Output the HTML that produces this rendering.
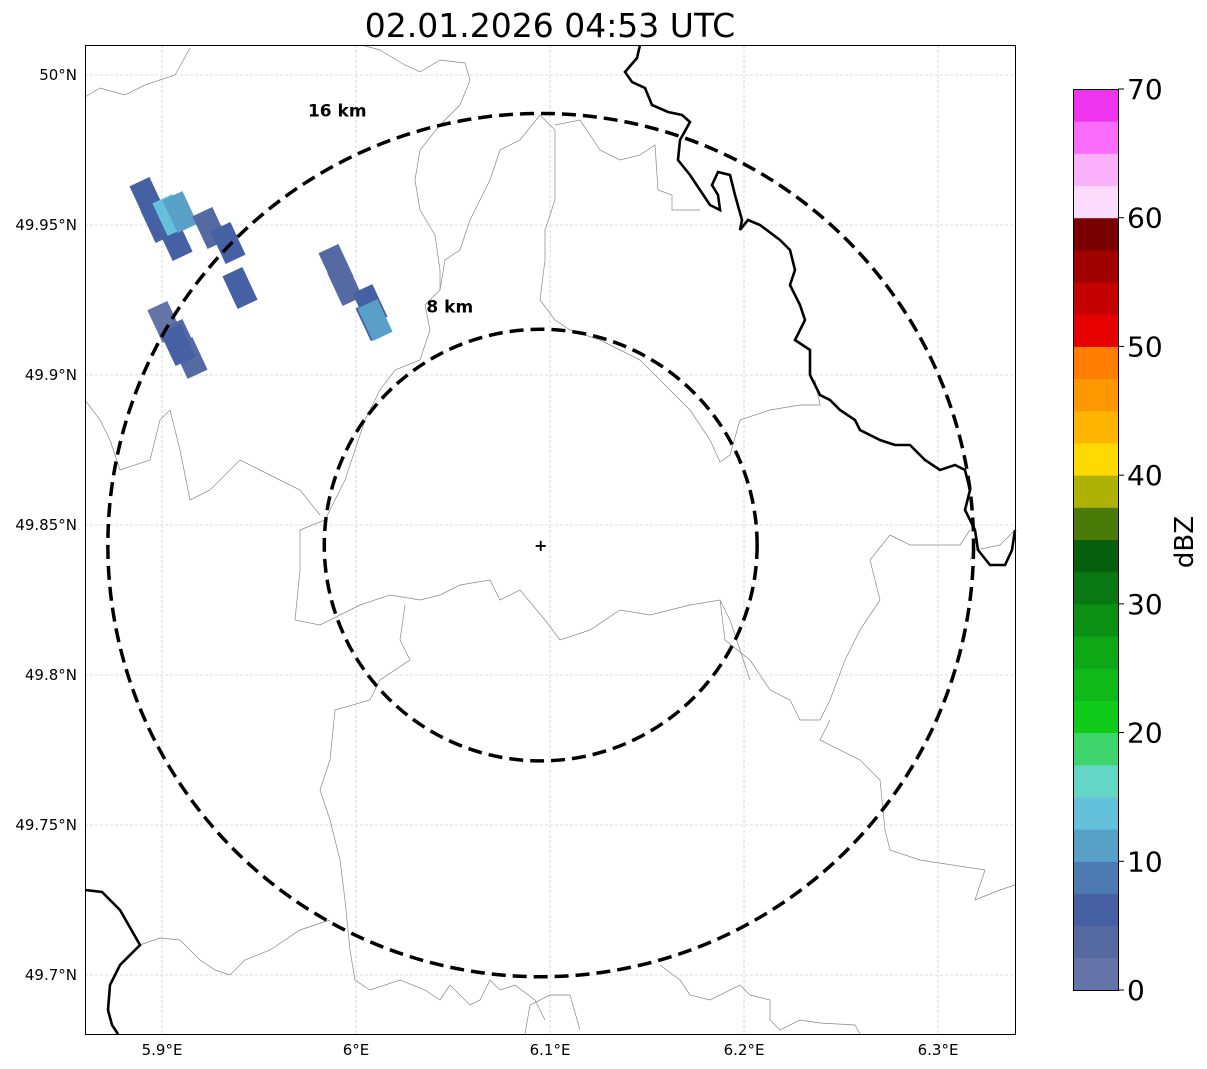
<!DOCTYPE html>
<html><head><meta charset="utf-8"><style>
html,body{margin:0;padding:0;background:#fff;}
svg{display:block;font-family:"DejaVu Sans","Liberation Sans",sans-serif;}
</style></head><body>
<svg id="chart" width="1207" height="1069" xmlns="http://www.w3.org/2000/svg">
<text x="550" y="37" font-size="33" text-anchor="middle" fill="#000">02.01.2026 04:53 UTC</text>
<g id="grid"></g>
<g id="borders" fill="none">
<polyline stroke="#888" stroke-width="0.7" points="85,97 100,88 125,95 145,85 175,75 190,48"/>
<polyline stroke="#888" stroke-width="0.7" points="362,45 380,50 405,65 420,72 440,60 465,63 470,80 460,105 440,125 420,150 415,180 420,210 435,235 440,270 440,290 425,305 430,330 420,360 395,370 380,390 365,420 355,450 345,480 325,520 300,530 300,570 295,620 320,625 360,605 390,595 420,600 440,595 460,585 490,580 500,600 520,590 545,620 560,640 590,630 620,610 650,615 690,605 720,600 730,620 740,650 750,680"/>
<polyline stroke="#888" stroke-width="0.7" points="85,400 100,420 110,440 120,470 150,460 160,420 170,410 180,450 190,500 210,490 240,460 260,470 300,490 320,515"/>
<polyline stroke="#888" stroke-width="0.7" points="540,115 520,140 500,150 490,180 480,200 470,220 460,250 445,260 440,290"/>
<polyline stroke="#888" stroke-width="0.7" points="540,115 555,130 555,200 545,230 545,260 540,300 555,320 570,330 600,340 620,350 640,360 660,380 690,410 710,440 720,462 730,455 740,420 770,410 800,405 820,405 815,380"/>
<polyline stroke="#888" stroke-width="0.7" points="555,125 580,120 600,150 620,160 640,155 655,145 658,190 672,195 672,210 700,210"/>
<polyline stroke="#888" stroke-width="0.7" points="970,530 960,545 910,545 890,535 870,560 880,600 860,630 845,660 830,700 820,720 800,720 790,700 770,690 750,660 725,640 720,600"/>
<polyline stroke="#888" stroke-width="0.7" points="830,720 820,740 860,760 880,780 885,830 890,850 920,860 985,870 975,900 1000,890 1015,885"/>
<polyline stroke="#888" stroke-width="0.7" points="405,605 400,640 410,660 380,680 370,700 335,710 330,760 320,790 330,820 340,860 345,900 350,950 355,980 370,990 400,980 425,990 440,1000 450,985 470,1005 480,1000 490,980 500,990 515,985 535,1000 545,1020"/>
<polyline stroke="#888" stroke-width="0.7" points="860,1034 855,1025 820,1023 800,1020 780,1030 770,1020 770,1000 750,995 740,985 710,1000 690,995 680,980 660,965"/>
<polyline stroke="#888" stroke-width="0.7" points="525,1034 530,1005 550,995 570,995 580,1030"/>
<polyline stroke="#888" stroke-width="0.7" points="140,945 160,938 180,940 200,960 215,970 230,975 245,960 270,950 300,930 330,920"/>
<polyline stroke="#888" stroke-width="0.7" points="1015,530 1000,545 975,550 970,560"/>
<polyline stroke="#000" stroke-width="2.6" points="640,45 637,58 625,72 632,82 645,88 652,105 668,112 682,115 690,122 680,140 678,160 690,175 700,190 710,205 720,210 718,195 712,185 718,172 730,175 735,195 742,220 740,230 748,220 760,225 780,240 790,250 795,270 790,285 800,305 805,320 795,340 810,350 810,375 820,395 830,400 840,410 855,420 860,430 880,440 895,445 910,445 925,460 940,470 955,465 965,470 970,490 965,510 975,530 978,550 990,565 1005,565 1012,550 1015,530"/>
<polyline stroke="#000" stroke-width="2.6" points="85,890 102,892 120,910 140,945 120,965 110,985 108,1010 112,1025 118,1034"/>
</g>
<g id="echoes"></g>
<g id="rings"></g>
<rect x="85.5" y="45.5" width="930" height="989" fill="none" stroke="#000" stroke-width="1"/>
<g id="axes"></g>
<g id="cbar"></g>
<text transform="translate(1193,542) rotate(-90)" font-size="26" text-anchor="middle" fill="#000">dBZ</text>
</svg>
<script>
// ---- data ----
const lonTicks = [5.9, 6.0, 6.1, 6.2, 6.3];
const lonTickLabels = ["5.9°E", "6°E", "6.1°E", "6.2°E", "6.3°E"];
const latTicks = [50.0, 49.95, 49.9, 49.85, 49.8, 49.75, 49.7];
const latTickLabels = ["50°N", "49.95°N", "49.9°N", "49.85°N", "49.8°N", "49.75°N", "49.7°N"];
const ringRadiiKm = [8, 16];
const ringLabels = ["8 km", "16 km"];
const radarLon = 6.0952;
const radarLat = 49.8433;
const echoLon = [5.8923, 5.8964, 5.8979, 5.9067, 5.9041, 5.9093, 5.9247, 5.9340, 5.9402, 5.9015, 5.9093, 5.9144, 5.9082, 5.9897, 5.9943, 6.0072, 6.0088, 6.0098];
const echoLat = [49.959, 49.9533, 49.951, 49.945, 49.9533, 49.9543, 49.949, 49.944, 49.929, 49.9177, 49.9117, 49.9057, 49.91, 49.9367, 49.93, 49.9233, 49.9183, 49.9183];
const echoDbz = [5, 5, 6, 6, 14, 12, 3, 6, 7, 2, 3, 3, 5, 3, 3, 6, 5, 12];
const cbarColors = ["#6473a8","#5569a3","#4560a3","#4d7ab3","#58a0c8","#63c1dc","#63d6c6","#3ed66c","#10cb1a","#0fb91a","#0ea715","#0b8f14","#0a7812","#065f0d","#4a7a08","#aeb106","#ffd900","#ffb500","#ff9800","#ff7e00","#e60000","#c40000","#a00000","#7a0000","#fcdcfc","#fcb0fc","#fc6cfc","#ef34ef"];
const cbarTicks = [0, 10, 20, 30, 40, 50, 60, 70];

// ---- scales ----
const NS = "http://www.w3.org/2000/svg";
const X0 = 85, X1 = 1015, Y0 = 45, Y1 = 1034;
const lonMin = 5.8603, pxPerLon = 1940;
const latMax = 50.01, pxPerLat = 3000;
function xScale(lon){ return X0 + (lon - lonMin) * pxPerLon; }
function yScale(lat){ return Y0 + (latMax - lat) * pxPerLat; }
const CB_X = 1073, CB_W = 45, CB_TOP = 89, CB_BOT = 990, CB_MAX = 70;
function cbY(v){ return CB_BOT - v / CB_MAX * (CB_BOT - CB_TOP); }
function colorFor(d){ let i = Math.floor(d / 2.5); if (i < 0) i = 0; if (i > 27) i = 27; return cbarColors[i]; }
function mk(tag, attrs, parent){ const e = document.createElementNS(NS, tag); for (const k in attrs) e.setAttribute(k, attrs[k]); parent.appendChild(e); return e; }

// grid
const grid = document.getElementById('grid');
lonTicks.forEach(function(lon){
  const l = mk('line', {x1: xScale(lon), x2: xScale(lon), y1: Y0, y2: Y1, stroke: '#bbb', 'stroke-width': 0.6, 'stroke-dasharray': '3,2'}, grid);
  
  
});
latTicks.forEach(function(lat){
  const l = mk('line', {x1: X0, x2: X1, y1: yScale(lat), y2: yScale(lat), stroke: '#bbb', 'stroke-width': 0.6, 'stroke-dasharray': '3,2'}, grid);
  
  
});

// axes labels
const axes = document.getElementById('axes');
lonTicks.forEach(function(lon, i){
  const t = mk('text', {x: xScale(lon), y: 1055, 'font-size': 15, 'text-anchor': 'middle', fill: '#000'}, axes);
  
  
  t.textContent = lonTickLabels[i];
});
latTicks.forEach(function(lat, i){
  const t = mk('text', {x: 77, y: yScale(lat) + 5, 'font-size': 15, 'text-anchor': 'end', fill: '#000'}, axes);
  
  
  t.textContent = latTickLabels[i];
});

// echoes
const echoes = document.getElementById('echoes');
echoLon.forEach(function(lon, i){
  const cx = xScale(lon), cy = yScale(echoLat[i]);
  const r = mk('rect', {x: cx - 11, y: cy - 18, width: 22, height: 36, fill: colorFor(echoDbz[i]), transform: 'rotate(-25 ' + cx + ' ' + cy + ')'}, echoes);
  
  
});

// rings
const rings = document.getElementById('rings');
const rx0 = xScale(radarLon), ry0 = yScale(radarLat);
const kmPerDegLat = 111.2;
ringRadiiKm.forEach(function(km, i){
  const ry = km / kmPerDegLat * pxPerLat;
  const rx = km / (kmPerDegLat * Math.cos(radarLat * Math.PI / 180)) * pxPerLon;
  const e = mk('ellipse', {cx: rx0, cy: ry0, rx: rx, ry: ry, fill: 'none', stroke: '#000', 'stroke-width': 3.5, 'stroke-dasharray': '14,7'}, rings);
  
  
  const lx = km === 8 ? rx0 - rx * 0.42 : rx0 - rx * 0.47;
  const ly = km === 8 ? ry0 - ry - 17 : ry0 - ry + 3;
  const t = mk('text', {x: lx, y: ly, 'font-size': 17, 'font-weight': 'bold', 'text-anchor': 'middle', fill: '#000'}, rings);
  
  
  t.textContent = ringLabels[i];
});
const m = mk('text', {x: rx0, y: ry0 + 6, 'font-size': 16, 'font-weight': 'bold', 'text-anchor': 'middle', fill: '#000'}, rings);


m.textContent = '+';

// colorbar
const cbar = document.getElementById('cbar');
cbarColors.forEach(function(c, i){
  const yTop = cbY((i + 1) * 2.5), yBot = cbY(i * 2.5);
  const r = mk('rect', {x: CB_X, y: yTop, width: CB_W, height: yBot - yTop + 0.5, fill: c}, cbar);
  
  
});
const fr = mk('rect', {x: CB_X + 0.5, y: CB_TOP + 0.5, width: CB_W, height: CB_BOT - CB_TOP, fill: 'none', stroke: '#000', 'stroke-width': 1}, cbar);


cbarTicks.forEach(function(v){
  const y = cbY(v);
  const l = mk('line', {x1: CB_X + CB_W, x2: CB_X + CB_W + 6, y1: y, y2: y, stroke: '#000', 'stroke-width': 1}, cbar);
  
  
  const t = mk('text', {x: CB_X + CB_W + 9, y: y + 10, 'font-size': 28, fill: '#000'}, cbar);
  
  
  t.textContent = String(v);
});
</script>
</body></html>
